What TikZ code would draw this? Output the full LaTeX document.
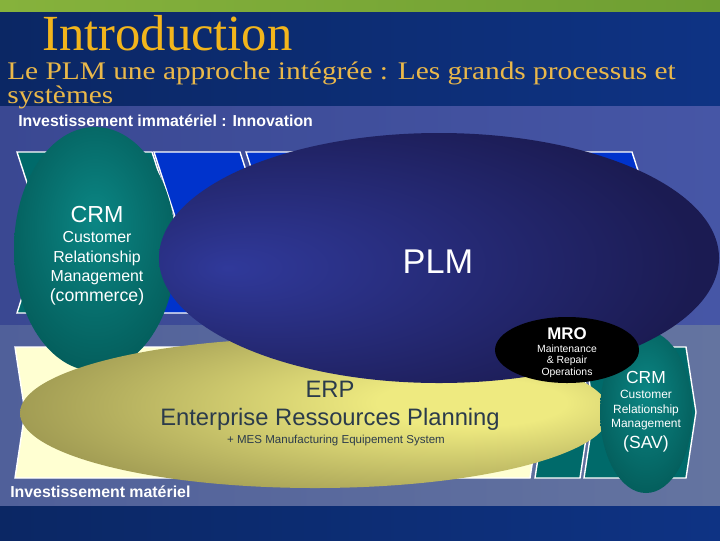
\documentclass[tikz,border=0pt]{standalone}
\usepackage{fontspec}
\setmainfont{Liberation Sans}
\newfontfamily\titlefont{Liberation Serif}
\newfontfamily\subtitlefont[FakeStretch=1.16]{Liberation Serif}
\usetikzlibrary{positioning}

% background
\definecolor{stripL}{HTML}{86B23C}
\definecolor{stripR}{HTML}{6E9E32}
\definecolor{bgdarkL}{HTML}{0B2764}
\definecolor{bgdarkR}{HTML}{0E3384}
\definecolor{panelL}{HTML}{3A4892}
\definecolor{panelR}{HTML}{4656A6}
\definecolor{lowL}{HTML}{50609A}
\definecolor{lowR}{HTML}{6474A0}
% chevrons
\definecolor{chevteal}{HTML}{006A6A}
\definecolor{chevblue}{HTML}{0033CC}
\definecolor{chevcream}{HTML}{FFFFD2}
% ellipses
\definecolor{plmlight}{HTML}{30399A}
\definecolor{plmdark}{HTML}{1B1B52}
\definecolor{erplight}{HTML}{EEEA80}
\definecolor{erpdark}{HTML}{807A40}
\definecolor{teallight}{HTML}{0B8684}
\definecolor{tealdark}{HTML}{004846}
% texts
\definecolor{titlegold}{HTML}{F2B51C}
\definecolor{subgold}{HTML}{EAB84A}
\definecolor{erptext}{HTML}{2B3B4B}

\pgfdeclareradialshading{plmglow}{\pgfpoint{-19bp}{-2bp}}{color(0bp)=(plmlight); color(32bp)=(plmdark); color(60bp)=(plmdark)}
\pgfdeclareradialshading{erpglow}{\pgfpoint{15bp}{4bp}}{color(0bp)=(erplight); color(8bp)=(erplight); color(44bp)=(erpdark); color(70bp)=(erpdark)}
\pgfdeclareradialshading{tealglow}{\pgfpoint{0bp}{6bp}}{color(0bp)=(teallight); color(44bp)=(tealdark); color(60bp)=(tealdark)}

\begin{document}
\begin{tikzpicture}[
		x=0.025cm, y=-0.025cm,
		% text styles
		txt/.style={inner sep=0pt, anchor=base, text=white},
		introfont/.style={font=\titlefont\fontsize{36}{43}\selectfont},
		subfont/.style={font=\subtitlefont\fontsize{18}{21}\selectfont},
		bandfont/.style={font=\bfseries\fontsize{11.3}{13}\selectfont},
		bigfont/.style={font=\fontsize{16.5}{19}\selectfont},
		smallfont/.style={font=\fontsize{11.3}{13}\selectfont},
		% shapes
		chevline/.style={draw=white, line width=1pt}
	]
	\useasboundingbox (0,0) rectangle (720,540);

	% Background bands
	\shade[left color=stripL, right color=stripR] (0,0) rectangle (720,12);
	\shade[left color=bgdarkL, right color=bgdarkR] (0,12) rectangle (720,106);
	\shade[left color=panelL, right color=panelR] (0,106) rectangle (720,325);
	\shade[left color=lowL, right color=lowR] (0,325) rectangle (720,506);
	\shade[left color=bgdarkL, right color=bgdarkR] (0,506) rectangle (720,540);

	% Process chevrons (top row)
	\foreach \a/\b/\c in {17/152/chevteal, 154/240/chevblue, 246/440/chevblue, 444/632/chevblue}
		\filldraw[fill=\c, chevline] (\a,152) -- (\b,152) -- ({\b+26},232) -- (\b,313)
			-- (\a,313) -- ({\a+26},232) -- cycle;

	% Process chevrons (bottom row)
	\foreach \a/\b/\c in {15/530/chevcream, 535/580/chevteal, 584/686/chevteal}
		\filldraw[fill=\c, chevline] (\a,347) -- (\b,347) -- ({\b+10},412) -- (\b,478)
			-- (\a,478) -- ({\a+10},412) -- cycle;

	% Systems (back to front)
	\shade[shading=tealglow] (95,249) ellipse [x radius=81, y radius=122];
	\shade[shading=erpglow] (315,413) ellipse [x radius=295, y radius=75];
	\shade[shading=tealglow] (646,412) ellipse [x radius=46, y radius=81];
	\shade[shading=plmglow] (439,258) ellipse [x radius=280, y radius=125];
	\fill[black] (567,350) ellipse [x radius=72, y radius=33];

	% Title
	\node[txt, anchor=base west, introfont, text=titlegold] (intro) at (42,50) {Introduction};
	\node[txt, anchor=base west, subfont, text=subgold] (sub1) at (7,79)
		{Le PLM une approche intégrée : Les grands processus et};
	\node[txt, anchor=base west, subfont, text=subgold] (sub2) at (7,103) {systèmes};

	% Band labels
	\node[txt, anchor=base west, bandfont] (immat) at (18,126) {Investissement immatériel : Innovation};
	\node[txt, anchor=base west, bandfont] (mat) at (10,497) {Investissement matériel};

	% CRM (commerce)
	\node[txt, bigfont] (crm1) at (97,222) {CRM};
	\node[txt, smallfont] (crm1a) at (97,242) {Customer};
	\node[txt, smallfont] (crm1b) at (97,262) {Relationship};
	\node[txt, smallfont] (crm1c) at (97,281) {Management};
	\node[txt, font=\fontsize{12.6}{15}\selectfont] (crm1d) at (97,301) {(commerce)};

	% PLM
	\node[txt, font=\fontsize{24.4}{28}\selectfont] (plm) at (438,273) {PLM};

	% ERP
	\node[txt, font=\fontsize{16.9}{19}\selectfont, text=erptext] (erp) at (330,397) {ERP};
	\node[txt, font=\fontsize{16.9}{19}\selectfont, text=erptext] (erpa) at (330,425)
		{Enterprise Ressources Planning};
	\node[txt, font=\fontsize{8.2}{10}\selectfont, text=erptext] (erpb) at (336,443)
		{+ MES Manufacturing Equipement System};

	% MRO
	\node[txt, font=\bfseries\fontsize{12}{14}\selectfont] (mro) at (567,339) {MRO};
	\node[txt, font=\fontsize{7.4}{9}\selectfont] (mroa) at (567,352) {Maintenance};
	\node[txt, font=\fontsize{7.4}{9}\selectfont] (mrob) at (567,363) {\& Repair};
	\node[txt, font=\fontsize{7.4}{9}\selectfont] (mroc) at (567,375) {Operations};

	% CRM (SAV)
	\node[txt, font=\fontsize{12.4}{15}\selectfont] (crm2) at (646,383) {CRM};
	\node[txt, font=\fontsize{8.5}{10}\selectfont] (crm2a) at (646,398) {Customer};
	\node[txt, font=\fontsize{8.5}{10}\selectfont] (crm2b) at (646,413) {Relationship};
	\node[txt, font=\fontsize{8.5}{10}\selectfont] (crm2c) at (646,427) {Management};
	\node[txt, font=\fontsize{12.5}{15}\selectfont] (crm2d) at (646,448) {(SAV)};
\end{tikzpicture}
\end{document}
